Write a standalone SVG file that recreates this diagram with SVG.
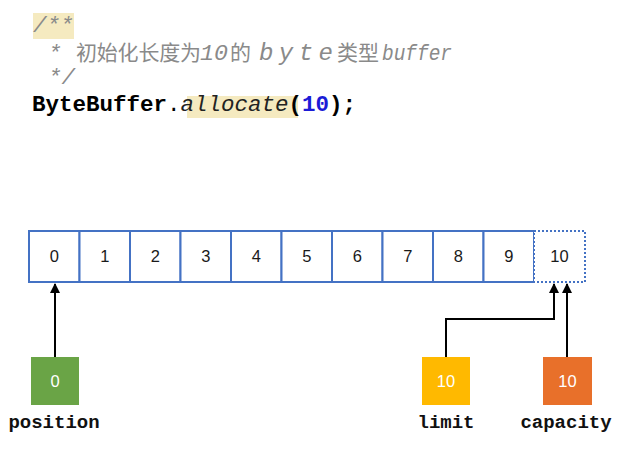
<svg xmlns="http://www.w3.org/2000/svg" width="621" height="449" viewBox="0 0 621 449">
<style>
.code{font-family:"Liberation Mono","DejaVu Sans Mono",monospace;font-size:22.5px}
.cm{fill:#8a8a8a;font-style:italic}
.cjk{font-family:"Noto Sans CJK SC","Noto Sans CJK JP",sans-serif;font-style:normal;font-size:21px}
.cell{fill:#ffffff;stroke:#4472c4;stroke-width:2}
.cellt{font-family:"Liberation Sans","Noto Sans",sans-serif;font-size:16.5px;fill:#1a1a1a;text-anchor:middle}
.bt{font-family:"Liberation Sans","Noto Sans",sans-serif;font-size:16.5px;fill:#ffffff;text-anchor:middle}
.lab{font-family:"Liberation Mono","DejaVu Sans Mono",monospace;font-weight:bold;font-size:19px;fill:#111;text-anchor:middle}
.conn{fill:none;stroke:#000;stroke-width:2}
</style>
<defs>
<marker id="ah" viewBox="0 0 10 10" refX="9" refY="5" markerWidth="5" markerHeight="5" orient="auto" markerUnits="strokeWidth">
<path d="M0,0 L10,5 L0,10 z" fill="#000"/>
</marker>
</defs>
<rect width="621" height="449" fill="#ffffff"/>
<g id="code">
<rect x="33" y="13" width="41" height="26" fill="#f5eac0"/>
<rect x="187" y="96" width="111" height="22" fill="#f5eac0"/>
<text class="code cm" x="33" y="32">/**</text>
<text class="code cm" y="60"><tspan x="48">*</tspan><tspan class="cjk" x="76" textLength="125">初始化长度为</tspan><tspan x="200" textLength="28" lengthAdjust="spacingAndGlyphs">10</tspan><tspan class="cjk" x="230">的</tspan><tspan x="259" font-size="24" textLength="74">byte</tspan><tspan class="cjk" x="337">类型</tspan><tspan x="382" textLength="70" lengthAdjust="spacingAndGlyphs">buffer</tspan></text>
<text class="code cm" x="48" y="84">*/</text>
<text class="code" x="32" y="111"><tspan font-weight="bold" fill="#000">ByteBuffer</tspan><tspan fill="#000">.</tspan><tspan font-style="italic" fill="#222">allocate</tspan><tspan font-weight="bold" fill="#000">(</tspan><tspan font-weight="bold" fill="#1b1bd6">10</tspan><tspan font-weight="bold" fill="#000">);</tspan></text>
</g>
<g id="buffer">
<rect class="cell" x="29" y="231" width="50.5" height="51"/>
<rect class="cell" x="79.5" y="231" width="50.5" height="51"/>
<rect class="cell" x="130" y="231" width="50.5" height="51"/>
<rect class="cell" x="180.5" y="231" width="50.5" height="51"/>
<rect class="cell" x="231" y="231" width="50.5" height="51"/>
<rect class="cell" x="281.5" y="231" width="50.5" height="51"/>
<rect class="cell" x="332" y="231" width="50.5" height="51"/>
<rect class="cell" x="382.5" y="231" width="50.5" height="51"/>
<rect class="cell" x="433" y="231" width="50.5" height="51"/>
<rect class="cell" x="483.5" y="231" width="50.5" height="51"/>
<rect x="534" y="231" width="51" height="51" fill="#ffffff" stroke="#4472c4" stroke-width="2" stroke-dasharray="2,2"/>
<text class="cellt" x="54.3" y="262">0</text>
<text class="cellt" x="104.8" y="262">1</text>
<text class="cellt" x="155.3" y="262">2</text>
<text class="cellt" x="205.8" y="262">3</text>
<text class="cellt" x="256.3" y="262">4</text>
<text class="cellt" x="306.8" y="262">5</text>
<text class="cellt" x="357.3" y="262">6</text>
<text class="cellt" x="407.8" y="262">7</text>
<text class="cellt" x="458.3" y="262">8</text>
<text class="cellt" x="508.8" y="262">9</text>
<text class="cellt" x="559.5" y="262">10</text>
</g>
<g id="connectors">
<path class="conn" d="M55,357 V284" marker-end="url(#ah)"/>
<path class="conn" d="M446,357 V319 H554 V284" marker-end="url(#ah)"/>
<path class="conn" d="M567,357 V284" marker-end="url(#ah)"/>
</g>
<g id="position">
<rect x="31" y="357" width="48" height="48" fill="#6aa446"/>
<text class="bt" x="55" y="387">0</text>
<text class="lab" x="54" y="428">position</text>
</g>
<g id="limit">
<rect x="422" y="357" width="48" height="48" fill="#ffb900"/>
<text class="bt" x="446" y="387">10</text>
<text class="lab" x="446" y="428">limit</text>
</g>
<g id="capacity">
<rect x="543" y="357" width="49" height="48" fill="#e8702a"/>
<text class="bt" x="567.5" y="387">10</text>
<text class="lab" x="566" y="428">capacity</text>
</g>
</svg>
